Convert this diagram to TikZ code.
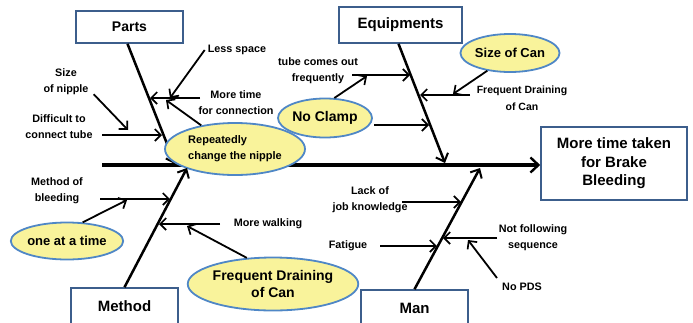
\documentclass[tikz,border=0pt]{standalone}
\usepackage{fontspec}
\setmainfont{Liberation Sans}
\usetikzlibrary{arrows.meta}
\definecolor{boxblue}{HTML}{3C5E8C}
\definecolor{ellfill}{HTML}{F9F39B}
\definecolor{ellline}{HTML}{4F87C6}
\tikzset{
  catbox/.style={draw=boxblue,line width=1.6pt,fill=white,inner sep=0pt,
    font=\bfseries\fontsize{14}{16}\selectfont},
  cause/.style={ellipse,draw=ellline,line width=1.8pt,fill=ellfill,inner sep=0pt,
    align=center,font=\bfseries\fontsize{13}{16}\selectfont},
  lbl/.style={inner sep=0pt,align=center,font=\bfseries\fontsize{10.8}{16}\selectfont},
  arr/.style={line width=1.8pt,-{Straight Barb[length=6pt,width=12pt,line width=1.7pt]}},
  bone/.style={line width=2.5pt,-{Straight Barb[length=7pt,width=13pt,line width=2pt]}},
  spine/.style={line width=3.4pt,-{Straight Barb[length=8pt,width=15pt,line width=2.4pt]}}
}
\usetikzlibrary{shapes.geometric}
\begin{document}
\begin{tikzpicture}[x=1pt,y=-1pt]
  \useasboundingbox (0,0) rectangle (693,322);
  % category boxes and effect
  \node[catbox,minimum width=107pt,minimum height=32pt] (parts) at (129.5,27) {Parts};
  \node[catbox,minimum width=123pt,minimum height=36pt,font=\bfseries\fontsize{15}{17}\selectfont] (equip) at (400.5,25) {Equipments};
  \node[catbox,minimum width=146pt,minimum height=73pt,align=center,
        font=\bfseries\fontsize{15}{18.5}\selectfont] (effect) at (614,163.5) {More time taken\\for Brake\\Bleeding};
  \node[catbox,minimum width=107pt,minimum height=36pt,font=\bfseries\fontsize{15}{17}\selectfont] (method) at (124.5,306) {Method};
  \node[catbox,minimum width=107pt,minimum height=36pt,font=\bfseries\fontsize{15}{17}\selectfont] (man) at (414.5,308) {Man};
  % spine and the bone that runs behind the big ellipse
  \coordinate (tail) at (102,165);
  \draw[spine] (tail) -- (tail -| effect.west);
  \coordinate (pj) at (175,164);
  \draw[bone] ([xshift=-2pt]parts.south) -- (pj);
  % ellipses
  \node[cause,minimum width=140pt,minimum height=52pt,align=left,
        font=\bfseries\fontsize{11}{16}\selectfont] (nipple) at (235,149) {Repeatedly\\change the nipple};
  \node[cause,minimum width=94pt,minimum height=39pt,font=\bfseries\fontsize{14}{16}\selectfont] (noclamp) at (325,118) {No Clamp};
  \node[cause,minimum width=92pt,minimum height=38pt] (sizecan) at (510,53) {Size of Can};
  \node[cause,minimum width=105pt,minimum height=37pt] (oneat) at (67,241) {one at a time};
  \node[cause,minimum width=139pt,minimum height=53pt,font=\bfseries\fontsize{14}{17}\selectfont] (fdrain) at (273,284) {Frequent Draining\\of Can};
  % labels
  \node[lbl] (less) at (237,50) {Less space};
  \node[lbl] (mtc) at (236,103) {More time\\for connection};
  \node[lbl] (sizen) at (66,82) {Size\\of nipple};
  \node[lbl] (diff) at (59,127) {Difficult to\\connect tube};
  \node[lbl] (tube) at (318,71) {tube comes out\\frequently};
  \node[lbl,font=\bfseries\fontsize{10.5}{17}\selectfont] (fdc) at (522,98) {Frequent Draining\\of Can};
  \node[lbl] (mob) at (57,191) {Method of\\bleeding};
  \node[lbl] (walk) at (268,224) {More walking};
  \node[lbl] (lack) at (370,200) {Lack of\\job knowledge};
  \node[lbl] (fat) at (348,246) {Fatigue};
  \node[lbl] (nfs) at (533,238) {Not following\\sequence};
  \node[lbl] (nopds) at (522,287) {No PDS};
  % other bones
  \coordinate (ej) at (445,163);
  \draw[bone] ([xshift=-2pt]equip.south) -- (ej);
  \coordinate (mj) at (187,168);
  \draw[bone] (method.north) -- (mj);
  \coordinate (nj) at (480,168);
  \draw[bone] (man.north) -- (nj);
  % parts causes
  \coordinate (p1s) at (200,98); \coordinate (p1) at (150,98);
  \draw[arr] (p1s) -- (p1);
  \coordinate (p1a) at (170,98);
  \draw[arr] ([xshift=-3pt]less.west) -- (p1a);
  \coordinate (p1b) at (166,100);
  \draw[arr] (nipple.145) -- (p1b);
  \coordinate (p2) at (128,130);
  \draw[arr] ([shift={(5,-1)}]sizen.south east) -- (p2);
  \coordinate (p3s) at (102,135); \coordinate (p3) at (162,135);
  \draw[arr] (p3s) -- (p3);
  % equipment causes
  \coordinate (e1s) at (352,75); \coordinate (e1) at (410,75);
  \draw[arr] (e1s) -- (e1);
  \coordinate (e1a) at (367,76);
  \draw[arr] (noclamp.65) -- (e1a);
  \coordinate (e3s) at (374,125); \coordinate (e3) at (429,125);
  \draw[arr] (e3s) -- (e3);
  \coordinate (e2s) at (470,95); \coordinate (e2) at (420,95);
  \draw[arr] (e2s) -- (e2);
  \coordinate (e2a) at (453,94);
  \draw[arr] (sizecan.218) -- (e2a);
  % method causes
  \coordinate (m1s) at (100,199); \coordinate (m1) at (170,199);
  \draw[arr] (m1s) -- (m1);
  \coordinate (m1a) at (127,200);
  \draw[arr] (oneat.50) -- (m1a);
  \coordinate (m2s) at (220,224); \coordinate (m2) at (159,224);
  \draw[arr] (m2s) -- (m2);
  \coordinate (m2a) at (187,226);
  \draw[arr] (fdrain.135) -- (m2a);
  % man causes
  \coordinate (n1s) at (402,202); \coordinate (n1) at (461,202);
  \draw[arr] (n1s) -- (n1);
  \coordinate (n2s) at (380,246); \coordinate (n2) at (437,246);
  \draw[arr] (n2s) -- (n2);
  \coordinate (n3s) at (497,238); \coordinate (n3) at (443,238);
  \draw[arr] (n3s) -- (n3);
  \coordinate (n3b) at (497,278); \coordinate (n3a) at (468,240);
  \draw[arr] (n3b) -- (n3a);
\end{tikzpicture}
\end{document}
